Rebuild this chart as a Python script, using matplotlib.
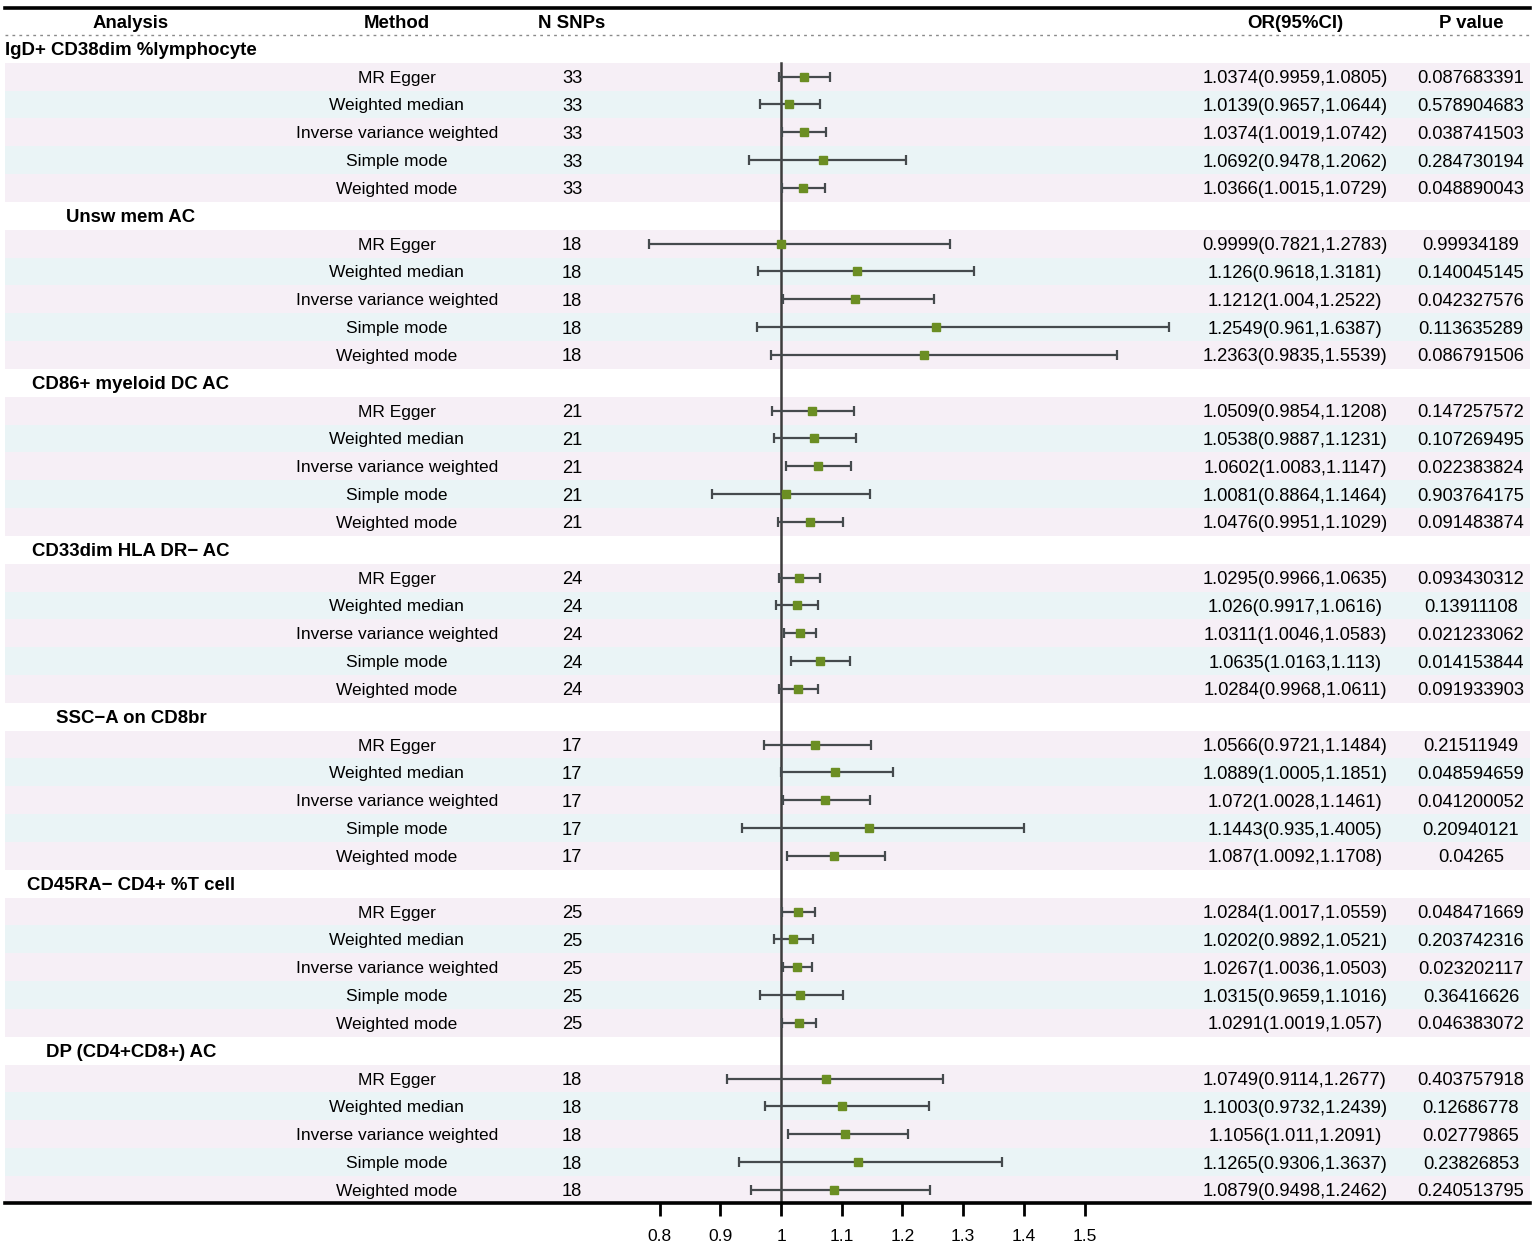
import matplotlib
matplotlib.use("Agg")
import matplotlib.pyplot as plt
import numpy as np

plt.rcParams['font.family'] = ['Liberation Sans', 'DejaVu Sans']

groups = ["IgD+ CD38dim %lymphocyte", "Unsw mem AC", "CD86+ myeloid DC AC",
          "CD33dim HLA DR\u2212 AC", "SSC\u2212A on CD8br", "CD45RA\u2212 CD4+ %T cell",
          "DP (CD4+CD8+) AC"]
methods = ["MR Egger", "Weighted median", "Inverse variance weighted",
           "Simple mode", "Weighted mode"]
n_snps = [33, 18, 21, 24, 17, 25, 18]

or_text = [
    ["1.0374", "1.0139", "1.0374", "1.0692", "1.0366"],
    ["0.9999", "1.126", "1.1212", "1.2549", "1.2363"],
    ["1.0509", "1.0538", "1.0602", "1.0081", "1.0476"],
    ["1.0295", "1.026", "1.0311", "1.0635", "1.0284"],
    ["1.0566", "1.0889", "1.072", "1.1443", "1.087"],
    ["1.0284", "1.0202", "1.0267", "1.0315", "1.0291"],
    ["1.0749", "1.1003", "1.1056", "1.1265", "1.0879"],
]
lo_text = [
    ["0.9959", "0.9657", "1.0019", "0.9478", "1.0015"],
    ["0.7821", "0.9618", "1.004", "0.961", "0.9835"],
    ["0.9854", "0.9887", "1.0083", "0.8864", "0.9951"],
    ["0.9966", "0.9917", "1.0046", "1.0163", "0.9968"],
    ["0.9721", "1.0005", "1.0028", "0.935", "1.0092"],
    ["1.0017", "0.9892", "1.0036", "0.9659", "1.0019"],
    ["0.9114", "0.9732", "1.011", "0.9306", "0.9498"],
]
hi_text = [
    ["1.0805", "1.0644", "1.0742", "1.2062", "1.0729"],
    ["1.2783", "1.3181", "1.2522", "1.6387", "1.5539"],
    ["1.1208", "1.1231", "1.1147", "1.1464", "1.1029"],
    ["1.0635", "1.0616", "1.0583", "1.113", "1.0611"],
    ["1.1484", "1.1851", "1.1461", "1.4005", "1.1708"],
    ["1.0559", "1.0521", "1.0503", "1.1016", "1.057"],
    ["1.2677", "1.2439", "1.2091", "1.3637", "1.2462"],
]
p_text = [
    ["0.087683391", "0.578904683", "0.038741503", "0.284730194", "0.048890043"],
    ["0.99934189", "0.140045145", "0.042327576", "0.113635289", "0.086791506"],
    ["0.147257572", "0.107269495", "0.022383824", "0.903764175", "0.091483874"],
    ["0.093430312", "0.13911108", "0.021233062", "0.014153844", "0.091933903"],
    ["0.21511949", "0.048594659", "0.041200052", "0.20940121", "0.04265"],
    ["0.048471669", "0.203742316", "0.023202117", "0.36416626", "0.046383072"],
    ["0.403757918", "0.12686778", "0.02779865", "0.23826853", "0.240513795"],
]
x_ticks = [0.8, 0.9, 1, 1.1, 1.2, 1.3, 1.4, 1.5]

pink = "#F6EFF6"
blue = "#EAF4F6"
green = "#6B8E23"
line_col = "#454a4d"
fs = 12.5       # method / N text
fs_num = 13.2   # OR and p values
fs_bold = 13.4  # header and group titles

W, H = 1535, 1248
fig = plt.figure(figsize=(W / 100, H / 100), dpi=100)
# axes spans the table: left/right edges and top/bottom rules
ax = fig.add_axes([5 / W, (H - 1203) / H, 1525 / W, 1195 / H])
px_per_unit = 607.0
ax.set_xlim(1 + (5 - 781) / px_per_unit, 1 + (1530 - 781) / px_per_unit)
row_h = 27.83
ax.set_ylim((1203 - 21) / row_h, (8 - 21) / row_h)

tr = ax.get_yaxis_transform()
col_x = {"an": 0.0826, "me": 0.2570, "n": 0.3718, "or": 0.8459, "p": 0.9613}
va = "center_baseline"

# header
for key, lab in [("an", "Analysis"), ("me", "Method"), ("n", "N SNPs"),
                 ("or", "OR(95%CI)"), ("p", "P value")]:
    ax.text(col_x[key], 0, lab, transform=tr, ha="center", va=va,
            fontsize=fs_bold, fontweight="bold")
ax.axhline(0.5, color="#8a8a8a", lw=1.0, ls=(0, (2, 3)))

for g, name in enumerate(groups):
    r0 = 1 + 6 * g
    ax.text(col_x["an"], r0, name, transform=tr, ha="center", va=va,
            fontsize=fs_bold, fontweight="bold")
    est = np.array([float(v) for v in or_text[g]])
    lo = np.array([float(v) for v in lo_text[g]])
    hi = np.array([float(v) for v in hi_text[g]])
    rows = r0 + 1 + np.arange(len(methods))
    for i, r in enumerate(rows):
        ax.axhspan(r - 0.5, r + 0.5, color=pink if i % 2 == 0 else blue, lw=0, zorder=0)
        ax.text(col_x["me"], r, methods[i], transform=tr, ha="center", va=va, fontsize=fs)
        ax.text(col_x["n"], r, str(n_snps[g]), transform=tr, ha="center", va=va, fontsize=fs_num)
        ax.text(col_x["or"], r, f"{or_text[g][i]}({lo_text[g][i]},{hi_text[g][i]})",
                transform=tr, ha="center", va=va, fontsize=fs_num)
        ax.text(col_x["p"], r, p_text[g][i], transform=tr, ha="center", va=va, fontsize=fs_num)
    ax.errorbar(est, rows, xerr=[est - lo, hi - est], fmt="none", ecolor=line_col,
                elinewidth=1.6, capsize=3.5, capthick=1.6, zorder=3)
    ax.plot(est, rows, "s", color=green, markersize=5.5, zorder=4)

ax.plot([1, 1], [1.5, ax.get_ylim()[0]], color="#3c3c3c", lw=1.8, zorder=2)

for side in ["left", "right"]:
    ax.spines[side].set_visible(False)
ax.spines["top"].set_linewidth(2.6)
ax.spines["bottom"].set_linewidth(2.6)
ax.set_yticks([])
ax.set_xticks(x_ticks)
ax.set_xticklabels([f"{t:g}" for t in x_ticks])
ax.tick_params(axis="x", direction="out", length=9, width=2, labelsize=fs, pad=10)

fig.savefig("out.png", dpi=100)
